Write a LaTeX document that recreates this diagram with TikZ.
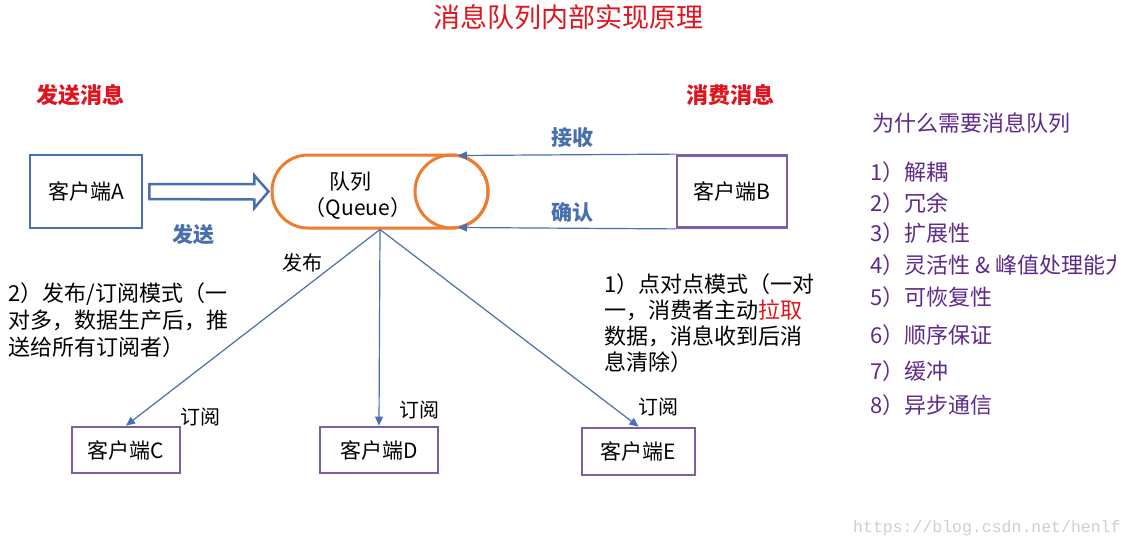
\documentclass[tikz,border=0pt]{standalone}
\usepackage{fontspec}
\setmainfont{Noto Sans CJK SC}
\newfontfamily\wmfont{Liberation Mono}
\usetikzlibrary{arrows.meta,calc}
\definecolor{qorange}{HTML}{ED7D31}
\definecolor{lblue}{HTML}{4A6FAE}
\definecolor{bpurple}{HTML}{7B5EA6}
\definecolor{tred}{HTML}{E0141E}
\definecolor{lpurple}{HTML}{5E2A8C}
\definecolor{wmgray}{HTML}{CFCFCF}
\tikzset{
  fs/.style={font=\fontsize{#1}{#1}\selectfont},
  cbox/.style={draw=bpurple, line width=2.8pt, minimum height=46pt, inner sep=0pt, fs=21},
  link/.style={draw=lblue, line width=1.2pt, -{Triangle[length=9pt,width=8pt]}},
  blbl/.style={text=lblue, fs=21},
  rlbl/.style={text=tred, fs=22},
  item/.style={text=lpurple, fs=22, anchor=west, inner sep=0pt},
  para/.style={align=left, anchor=west, inner sep=0pt},
}
\begin{document}
\begin{tikzpicture}[x=1pt,y=-1pt]
\useasboundingbox (0,0) rectangle (1134,550);
\fill[white] (0,0) rectangle (1134,550);

% title and headings
\node[text=tred, fs=27] (title) at (568,17) {消息队列内部实现原理};
\node[rlbl] (send) at (80,95) {\bfseries 发送消息};
\node[rlbl] (cons) at (730,95) {\bfseries 消费消息};

% client A and queue
\node[draw=lblue, line width=2.8pt, minimum width=112pt, minimum height=73pt, inner sep=0pt, fs=21] (A) at (86,191.5) {客户端A};
\node[draw=qorange, line width=3pt, rounded corners=36pt, minimum width=216pt, minimum height=73pt, inner sep=0pt] (Q) at (380,191.5) {};
\node[draw=qorange, line width=3pt, circle, minimum size=73pt, inner sep=0pt] (QC) at (451.5,191.5) {};
\node[fs=21] (qt1) at (350,182) {队列};
\node[fs=21] (qt2) at (358,208) {（Queue）};

% hollow arrow A -> Q
\draw[lblue, line width=2.5pt, line join=miter, fill=white]
  ($(A.east)+(6,-7.5)$) -- ++(105,0) -- ++(0,-8.5) -- ($(Q.west)+(-2,0)$)
  -- ($(A.east)+(111,16.5)$) -- ++(0,-8.5) -- ($(A.east)+(6,7.5)$) -- cycle;
\node[blbl] (sendlbl) at (193,235) {\bfseries 发送};

% client B
\node[draw=bpurple, line width=2.8pt, minimum width=110pt, minimum height=72pt, inner sep=0pt, fs=21] (B) at (732,191.5) {客户端B};
\coordinate (rin) at (458,155.5);
\coordinate (ain) at (458,227.5);
\draw[link] (B.north west) -- (rin);
\draw[link] (B.south west) -- (ain);
\node[blbl] (recv) at (572,138) {\bfseries 接收};
\node[blbl] (ack) at (572,213) {\bfseries 确认};

% subscribers
\node[cbox, minimum width=108pt] (C) at (126,450) {客户端C};
\node[cbox, minimum width=118pt] (D) at (379,450) {客户端D};
\node[cbox, minimum width=113pt, minimum height=47pt] (E) at (638.5,451.5) {客户端E};
\draw[link] (Q.south) -- (C.north);
\draw[link] (Q.south) -- (D.north);
\draw[link] (Q.south) -- (E.north);
\node[fs=20] (pub) at (302,263) {发布};
\node[fs=20] (subC) at (200,417) {订阅};
\node[fs=20] (subD) at (419,410) {订阅};
\node[fs=20] (subE) at (658,407) {订阅};

% explanation paragraphs
\node[para, font=\fontsize{22}{27}\selectfont] (ps) at (8,320)
  {2）发布/订阅模式（一\\对多，数据生产后，推\\送给所有订阅者）};
\node[para, font=\fontsize{22}{26}\selectfont] (pp) at (604,323)
  {1）点对点模式（一对\\一，消费者主动\textcolor{tred}{拉取}\\数据，消息收到后消\\息清除）};

% why list
\node[item] (why) at (872,123) {为什么需要消息队列};
\node[item] (i1) at (870,172) {1）解耦};
\node[item] (i2) at (870,203) {2）冗余};
\node[item] (i3) at (870,233) {3）扩展性};
\begin{scope}
\clip (860,240) rectangle (1115,290);
\node[item] (i4) at (870,265) {4）灵活性 \& 峰值处理能力};
\end{scope}
\node[item] (i5) at (870,297) {5）可恢复性};
\node[item] (i6) at (870,335) {6）顺序保证};
\node[item] (i7) at (870,371) {7）缓冲};
\node[item] (i8) at (870,405) {8）异步通信};

% watermark
\node[text=wmgray, font=\wmfont\fontsize{16.5}{16.5}\selectfont, anchor=west, inner sep=0pt] (wm) at (853,528) {https://blog.csdn.net/henlf};
\end{tikzpicture}
\end{document}
